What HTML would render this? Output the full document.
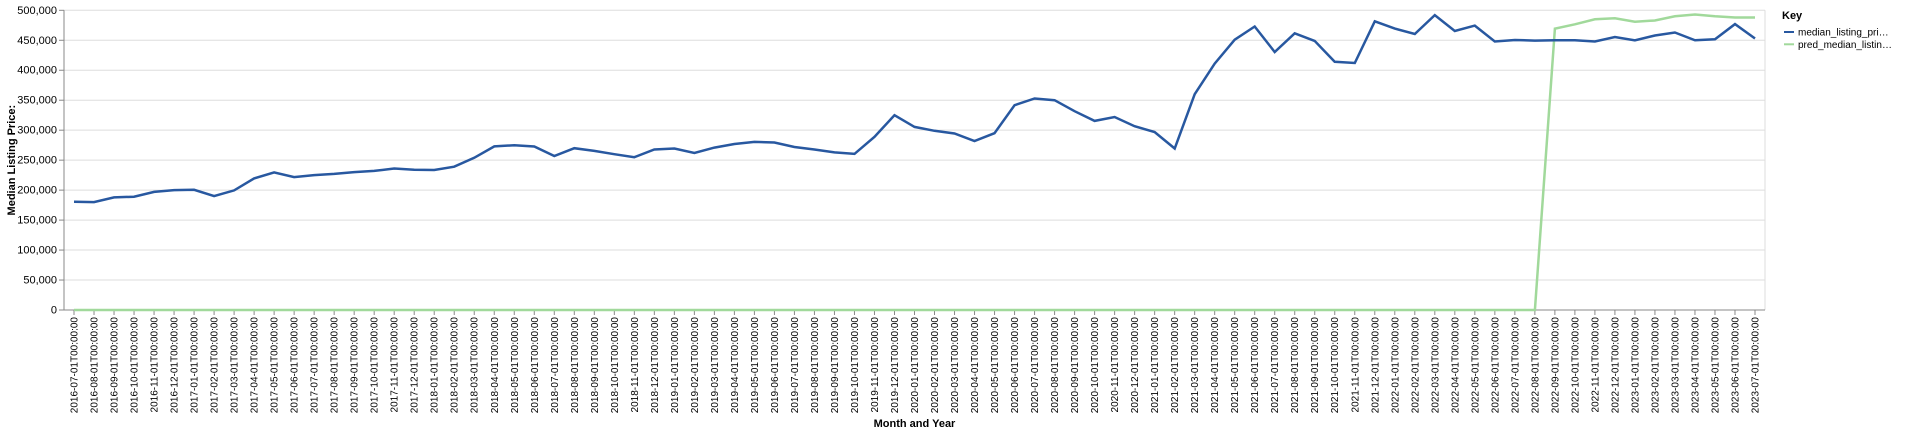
<!DOCTYPE html>
<html><head><meta charset="utf-8"><style>
html,body{margin:0;padding:0;background:#fff;}
svg{display:block;font-family:"Liberation Sans",Arial,sans-serif;}
</style></head><body>
<svg id="chart" width="1920" height="434"></svg>
<script>
const months = [];
for (let y = 2016, m = 7; !(y === 2023 && m === 8); ) {
  months.push(y + '-' + String(m).padStart(2, '0') + '-01T00:00:00');
  m++; if (m > 12) { m = 1; y++; }
}
const medianValues = [180500,180000,187800,189000,197000,200000,200500,190000,199500,219500,229500,221700,225000,227000,230000,232000,236000,234000,233500,239000,254000,273000,275000,272800,257000,270000,265500,260000,255000,267800,269500,262000,271000,277000,280500,279500,272000,267800,263000,260500,289000,325000,305500,299000,294400,282000,295000,341700,352800,350000,331700,315500,322000,306700,297000,269500,360000,411000,451000,473000,430500,461700,449000,414000,412000,481700,469500,460500,492000,465500,474500,448000,450500,449500,450000,450000,448000,455500,450000,458000,463000,450000,451700,477000,453000];
const predValues = [0,0,0,0,0,0,0,0,0,0,0,0,0,0,0,0,0,0,0,0,0,0,0,0,0,0,0,0,0,0,0,0,0,0,0,0,0,0,0,0,0,0,0,0,0,0,0,0,0,0,0,0,0,0,0,0,0,0,0,0,0,0,0,0,0,0,0,0,0,0,0,0,0,0,469500,476700,485000,486700,481000,483000,490000,493000,490000,488000,488000];
const yTicks = [0,50000,100000,150000,200000,250000,300000,350000,400000,450000,500000];

const NS = 'http://www.w3.org/2000/svg';
const svg = document.getElementById('chart');
const L = 64, R = 1765, T = 10.3, B = 310;
const band = (R - L) / months.length;
const x = i => L + band * (i + 0.5);
const y = v => B - (v / 500000) * (B - T);
function mk(tag, attrs, parent) {
  const e = document.createElementNS(NS, tag);
  for (const k in attrs) e.setAttribute(k, attrs[k]);
  (parent || svg).appendChild(e);
  return e;
}
yTicks.forEach(v => {
  const g = mk('line', {x1: L, x2: R, y1: y(v), y2: y(v), stroke: '#ddd', 'stroke-width': 1});
  
  
  mk('line', {x1: L - 5, x2: L, y1: y(v), y2: y(v), stroke: '#888'});
  const t = mk('text', {x: L - 7, y: y(v) + 3.5, 'text-anchor': 'end', 'font-size': 11, fill: '#000'});
  t.textContent = v.toLocaleString('en-US');
  
  
});
mk('line', {x1: R, x2: R, y1: T, y2: B, stroke: '#ddd'});
mk('line', {x1: L, x2: L, y1: T, y2: B, stroke: '#888'});
mk('line', {x1: L, x2: R, y1: B, y2: B, stroke: '#888'});
months.forEach((mth, i) => {
  mk('line', {x1: x(i), x2: x(i), y1: B, y2: B + 5, stroke: '#888'});
  const t = mk('text', {transform: `translate(${x(i) + 3.5},${B + 7}) rotate(-90)`, 'text-anchor': 'end', 'font-size': 10, fill: '#000'});
  t.textContent = mth;
  
  
});
function linePath(vals) { return vals.map((v, i) => (i ? 'L' : 'M') + x(i).toFixed(1) + ',' + y(v).toFixed(1)).join(''); }
const pred = mk('path', {d: linePath(predValues), fill: 'none', stroke: '#a1d99b', 'stroke-width': 2.5});


const med = mk('path', {d: linePath(medianValues), fill: 'none', stroke: '#2858a0', 'stroke-width': 2.5});


const xt = mk('text', {x: (L + R) / 2, y: 427, 'text-anchor': 'middle', 'font-size': 11, 'font-weight': 'bold'});
xt.textContent = 'Month and Year';


const yt = mk('text', {transform: `translate(15,${(T + B) / 2}) rotate(-90)`, 'text-anchor': 'middle', 'font-size': 11, 'font-weight': 'bold'});
yt.textContent = 'Median Listing Price:';


const lg = mk('g', {});


const kt = mk('text', {x: 1782, y: 19, 'font-size': 11, 'font-weight': 'bold'}, lg);
kt.textContent = 'Key';
[['median_listing_pri…', '#2858a0'], ['pred_median_listin…', '#a1d99b']].forEach((e, k) => {
  const yy = 32 + k * 12.3;
  mk('line', {x1: 1784, x2: 1794, y1: yy, y2: yy, stroke: e[1], 'stroke-width': 2}, lg);
  const t = mk('text', {x: 1798, y: yy + 3.5, 'font-size': 10, fill: '#000'}, lg);
  t.textContent = e[0];
  
  
});
</script>
</body></html>
